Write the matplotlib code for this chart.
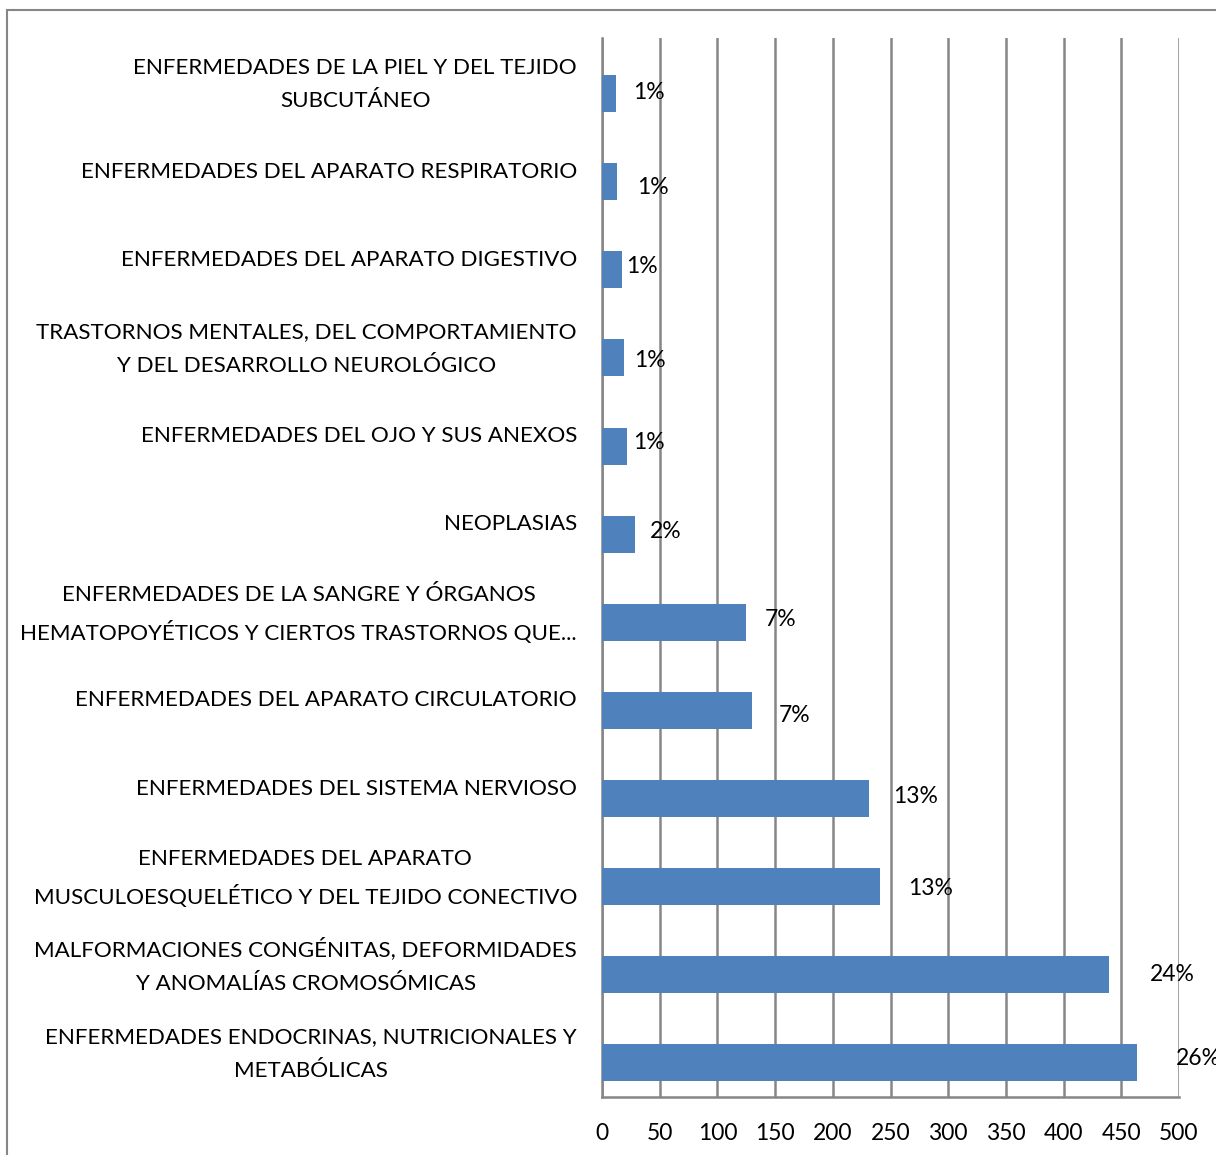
import matplotlib
matplotlib.use('Agg')
from matplotlib import pyplot as plt
from matplotlib.patches import Rectangle
import matplotlib.transforms as mtransforms

categorias = [
    'ENFERMEDADES ENDOCRINAS, NUTRICIONALES Y\nMETABÓLICAS',
    'MALFORMACIONES CONGÉNITAS, DEFORMIDADES\nY ANOMALÍAS CROMOSÓMICAS',
    'ENFERMEDADES DEL APARATO\nMUSCULOESQUELÉTICO Y DEL TEJIDO CONECTIVO',
    'ENFERMEDADES DEL SISTEMA NERVIOSO',
    'ENFERMEDADES DEL APARATO CIRCULATORIO',
    'ENFERMEDADES DE LA SANGRE Y ÓRGANOS\nHEMATOPOYÉTICOS Y CIERTOS TRASTORNOS QUE...',
    'NEOPLASIAS',
    'ENFERMEDADES DEL OJO Y SUS ANEXOS',
    'TRASTORNOS MENTALES, DEL COMPORTAMIENTO\nY DEL DESARROLLO NEUROLÓGICO',
    'ENFERMEDADES DEL APARATO DIGESTIVO',
    'ENFERMEDADES DEL APARATO RESPIRATORIO',
    'ENFERMEDADES DE LA PIEL Y DEL TEJIDO\nSUBCUTÁNEO',
]
valores = [464, 439, 241, 231, 130, 125, 29, 22, 19, 17, 13, 12]
porcentajes = ['26%', '24%', '13%', '13%', '7%', '7%', '2%', '1%', '1%', '1%', '1%', '1%']

# desplazamiento de las etiquetas (px) respecto al final de cada barra
dx_etiqueta = [38, 41, 28, 25, 27, 19, 14, 6, 10, 4, 20, 17]
dy_etiqueta = [4, 0, -2, 2, -5, 3, 3, 4, -3, 3, -6, 1]

plt.rcParams['font.family'] = ['Lato', 'DejaVu Sans']
gris = '#868686'

fig = plt.figure(figsize=(12.16, 11.55), dpi=100)
fig.patches.append(Rectangle((7 / 1216, -0.1), 1.2, 1 - 10 / 1155 + 0.1,
                             transform=fig.transFigure, fill=False,
                             edgecolor=gris, linewidth=1.5))
ax = fig.add_axes([602 / 1216, 1 - 1097 / 1155, 577 / 1216, 1059 / 1155])

y = list(range(len(categorias)))
ax.barh(y, valores, height=0.42, color='#4F81BD', zorder=3)
ax.set_xlim(0, 500)
ax.set_ylim(-0.386, 11.63)
ax.set_xticks(range(0, 501, 50))
ax.set_yticks(y)
ax.set_yticklabels(categorias, multialignment='center', fontsize=16.1, linespacing=1.85)
ax.tick_params(axis='x', length=0, labelsize=16.5, pad=19)
ax.tick_params(axis='y', length=0, pad=18)
ax.xaxis.grid(True, color=gris, linewidth=1.8, zorder=0)
for s in ['top', 'right']:
    ax.spines[s].set_visible(False)
for s in ['left', 'bottom']:
    ax.spines[s].set_color(gris)
    ax.spines[s].set_linewidth(1.8)

# en el original los rótulos quedan algo por encima del centro de la barra
for lab in ax.get_yticklabels():
    px = 18 if '\n' in lab.get_text() else 12
    subir = mtransforms.ScaledTranslation(0, px / 100, fig.dpi_scale_trans)
    lab.set_transform(lab.get_transform() + subir)

for i in range(len(valores)):
    ax.annotate(porcentajes[i], (valores[i], y[i]),
                xytext=(dx_etiqueta[i] * 0.72, dy_etiqueta[i] * 0.72),
                textcoords='offset points', ha='left', va='center',
                fontsize=16.5, annotation_clip=False)

plt.savefig('out.png', dpi=100)
plt.close()
